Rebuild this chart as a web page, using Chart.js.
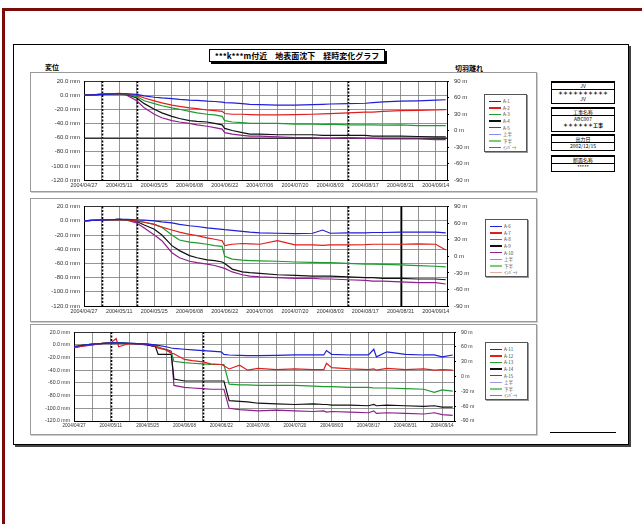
<!DOCTYPE html>
<html>
<head>
<meta charset="utf-8">
<script src="https://cdn.jsdelivr.net/npm/chart.js@4.4.1/dist/chart.umd.min.js"></script>
<style>
  body { margin: 0; width: 642px; height: 524px; overflow: hidden; position: relative; background: #fff;
         font-family: "Liberation Sans", Arial, "Noto Sans CJK JP", sans-serif; }
  .abs { position: absolute; }
  #frame { left: 2px; top: 8px; width: 700px; height: 600px; border-top: 3px solid #7b0c0c; border-left: 3px solid #7b0c0c; }
  #paper { left: 13px; top: 44px; width: 614px; height: 399px; border: 1px solid #000; box-shadow: 2px 2px 0 #444; }
  #title { left: 209px; top: 49px; width: 174px; height: 11px; border: 1px solid #000; box-shadow: 2px 2px 0 #000;
           font: 8px "Noto Sans CJK JP", sans-serif; font-weight: 600; line-height: 11px; text-align: center; white-space: nowrap; background: #fff; }
  .axname { font: 7px "Noto Sans CJK JP", sans-serif; font-weight: 600; white-space: nowrap; }
  .panel { border: 1px solid #9a9a9a; box-shadow: 1px 1px 0 #ccc; }
  .legend { border: 1px solid #555; box-shadow: 1px 1px 0 #999; background: #fff; padding: 3px 0 0 4px; box-sizing: border-box; }
  .legend .row { height: 6.6px; display: flex; align-items: center; }
  .legend .swatch { width: 12px; height: 1.5px; margin-right: 2px; }
  .legend .lab { font: 4.5px "Noto Sans CJK JP", sans-serif; color: #444; white-space: nowrap; }
  .info { left: 551px; width: 62px; border: 1px solid #000; border-top: 2px solid #000; text-align: center;
          font: 5px "Noto Sans CJK JP", sans-serif; }
  .info div { height: 6px; line-height: 6px; white-space: nowrap; }
  .info .head { border-bottom: 1.5px solid #000; }
</style>
</head>
<body>
<div id="frame" class="abs"></div>
<div id="paper" class="abs"></div>
<div id="title" class="abs">***k***m付近　地表面沈下　経時変化グラフ</div>
<div class="abs axname" style="left:45px;top:62px">変位</div>
<div class="abs axname" style="left:455px;top:63px">切羽離れ</div>

<div id="p1" class="abs panel" style="left:30px;top:72px;width:505px;height:118px"></div>
<div id="p2" class="abs panel" style="left:30px;top:198px;width:505px;height:122px"></div>
<div id="p3" class="abs panel" style="left:30px;top:324px;width:505px;height:109px"></div>

<div class="abs info" style="top:81px;height:20px">
  <div class="head">JV</div><div style="font-weight:bold">＊＊＊＊＊＊＊＊＊＊</div><div>JV</div>
</div>
<div class="abs info" style="top:107px;height:22px">
  <div class="head">工事名称</div><div>ABC007</div><div style="font-weight:bold">＊＊＊＊＊＊工事</div>
</div>
<div class="abs info" style="top:134px;height:14px">
  <div class="head">出力日</div><div>2002/12/15</div>
</div>
<div class="abs info" style="top:155px;height:14px">
  <div class="head">断面名称</div><div>*****</div>
</div>
<div class="abs" style="left:550px;top:432px;width:66px;height:0;border-top:1px solid #000"></div>

<script>
// x axis: days counted from 2004/04/27
const dateLabels = ['2004/04/27', '2004/05/11', '2004/05/25', '2004/06/08', '2004/06/22', '2004/07/06',
  '2004/07/20', '2004/08/03', '2004/08/17', '2004/08/31', '2004/09/14'];
const gridDays = [0, 7, 14, 21, 28, 35, 42, 49, 56, 63, 70, 77, 84, 91, 98, 105, 112, 119, 126, 133, 140];
const mmTicks = [20, 0, -20, -40, -60, -80, -100, -120];
const faceTicks = [90, 60, 30, 0, -30, -60, -90];

const seriesColors = ['#1f1fd6', '#e01e1e', '#1e9a2e', '#111111', '#8e1f8e'];
const faceNames = ['上半', '下半', 'ｲﾝﾊﾞｰﾄ'];
const faceColors1 = ['#8c8cf0', '#7cc87c', '#666666'];
const faceColors2 = ['#8c8cf0', '#7cc87c', '#e0b09a'];
const faceColors3 = ['#9a9ad8', '#7cc87c', '#e0642a'];

// panels 1 and 2 share the sampling days
const days12 = [0, 3, 7, 10, 14, 17, 21, 24, 28, 31, 35, 38, 42, 45, 49, 52, 55, 56, 59, 63, 66, 70, 77, 84,
  91, 95, 98, 105, 112, 115, 119, 126, 133, 140, 144];

const names1 = ['A-1', 'A-2', 'A-3', 'A-4', 'A-5'];
const a1 = [0, 0.5, 1, 1.5, 2, 2, 1, -1, -3, -4, -5, -6, -7, -7.5, -8.5, -9, -10, -10.5, -11, -12, -13, -13.5, -14, -14,
  -13.5, -13, -12.5, -12, -11.5, -10.5, -9.5, -8.5, -8, -7, -6.5];
const a2 = [0, 0.5, 1.5, 2, 2.5, 2, 0, -4, -8, -11, -14, -16, -18, -19, -21, -22, -23, -26, -27, -27, -27.5, -28, -28, -27.5,
  -27, -26.5, -26, -25, -24, -24, -23, -22, -21.5, -21, -20.5];
const a3 = [0, 0.5, 1, 1.5, 2, 1.5, -2, -8, -12, -15, -18, -20, -23, -25, -27, -28, -30, -36, -38, -39, -40, -40, -40, -41,
  -41, -41.5, -41, -42, -42, -42, -42.5, -42, -43, -43, -43];
const a4 = [0, 0.5, 1, 1.5, 2, 1, -4, -12, -20, -25, -30, -33, -36, -37, -38, -40, -42, -47, -50, -53, -55, -55, -56, -56,
  -56, -57, -57, -57, -57, -58, -58, -58, -58.5, -59, -59];
const a5 = [0, 0.5, 1, 1.5, 2, 0, -8, -18, -27, -32, -36, -38, -40, -42, -44, -46, -48, -53, -55, -57, -58, -58, -59, -60,
  -60, -61, -61, -60, -61, -61, -62, -62, -62, -63, -63];

const names2 = ['A-6', 'A-7', 'A-8', 'A-9', 'A-10'];
const a6 = [0, 0.5, 1, 1.5, 2, 2, 1.5, 1, 0, -1.5, -3, -5, -7, -8, -10, -11, -12, -12.5, -13.5, -15, -16, -17, -17.5, -18,
  -17.5, -13, -17.5, -17, -17, -16.5, -16.5, -16, -16, -16, -17];
const a7 = [0, 0.5, 1, 1.5, 2, 1.5, 0, -2, -5, -9, -13, -16, -19, -21, -24, -26, -28, -35, -33, -32, -32.5, -33, -28, -34,
  -34, -34.5, -34, -34, -33.5, -33, -33, -33, -32.5, -33, -41];
const a8 = [0, 0.5, 1, 1.5, 2, 1.5, 0, -2, -5, -9, -20, -27, -30, -31, -33, -35, -36, -50, -54, -55.5, -56, -56.5, -57, -58,
  -58.5, -59, -59, -60, -61, -61, -61.5, -62, -63, -64, -65];
const a9 = [0, 0.5, 1, 1.5, 2, 1.5, -1, -6, -12, -20, -35, -42, -49, -52, -55, -56, -58, -60, -68, -72, -73, -74, -76, -77,
  -78, -78, -78, -79, -80, -80, -81, -81, -82, -82, -83];
const a10 = [0, 0.5, 1, 1.5, 2, 1, -3, -10, -20, -28, -45, -52, -57, -59, -61, -63, -66, -67, -72, -76, -78, -79, -80, -81,
  -81, -82, -82, -83, -84, -85, -85, -86, -87, -87, -89];

const days3 = [0, 3, 7, 10, 14, 16, 17, 21, 24, 28, 31, 32, 35, 37, 38, 42, 45, 49, 52, 56, 57, 59, 63, 66, 70, 77, 84,
  91, 95, 96, 98, 105, 112, 114, 115, 119, 126, 133, 137, 140, 144];
const names3 = ['A-11', 'A-12', 'A-13', 'A-14', 'A-15'];
const a11 = [-3, -1, 1, 2, 3, 3, 3, 2.5, 2, 1, 0, -1, -3, -5, -5.5, -7, -8, -9, -10, -11, -15, -16, -16.5, -17, -17, -16.5,
  -16, -16, -16, -9, -15, -16, -16, -7, -19, -11, -15, -16, -16, -19, -16];
const a12 = [-5, -2, 0, 2, 3, 10, -3, 2, 2, 1, -2, -5, -8, -13, -14, -23, -25, -27, -30, -31, -33, -38, -32, -40, -37, -39,
  -38, -39, -39, -29, -36, -38, -39, -38, -40, -37, -39, -38, -40, -39, -40];
const a13 = [-3, -1, 1, 2, 3, 3, 3, 2.5, 2, 1, -1, -3, -8, -12, -26, -28, -29, -30, -31, -31, -31, -62, -63, -63, -64, -64,
  -64, -65, -66, -66, -66, -67, -67, -68, -68, -68, -69, -70, -75, -71, -73];
const a14 = [-4, -1, 1, 2, 3, 3, 3, 2.5, 2, 0, -3, -15, -15, -15, -54, -57, -57, -57, -57, -57, -57, -88, -89, -90, -92, -93,
  -94, -93, -94, -94, -95, -95, -96, -94, -96, -95, -96, -97, -96, -98, -98];
const a15 = [-4, -2, 0, 2, 3, 3, 3, 2, 1, 0, -3, -5, -7, -10, -64, -67, -68, -69, -70, -70, -70, -100, -102, -103, -104, -103,
  -104, -105, -104, -106, -105, -106, -107, -104, -108, -107, -108, -109, -107, -110, -111];

// event lines (days) drawn across the plot
const dotted12 = [7, 21, 105];
const solid2 = [126];

const eventLines = {
  id: 'eventLines',
  beforeDatasetsDraw(chart, args, opts) {
    const { ctx, chartArea, scales } = chart;
    ctx.save();
    ctx.strokeStyle = '#000';
    const draw = (d, dash, w) => {
      const x = Math.round(scales.x.getPixelForValue(d)) + 0.5;
      ctx.setLineDash(dash);
      ctx.lineWidth = w;
      ctx.beginPath();
      ctx.moveTo(x, chartArea.top);
      ctx.lineTo(x, chartArea.bottom);
      ctx.stroke();
    };
    (opts.dotted || []).forEach(d => draw(d, [2, 1.5], 1.6));
    (opts.solid || []).forEach(d => draw(d, [], 1.6));
    // management line
    if (opts.hline !== undefined) {
      const y = Math.round(scales.y.getPixelForValue(opts.hline)) + 0.5;
      ctx.setLineDash([]);
      ctx.strokeStyle = '#333';
      ctx.lineWidth = 1;
      ctx.beginPath();
      ctx.moveTo(chartArea.left, y);
      ctx.lineTo(chartArea.right, y);
      ctx.stroke();
    }
    ctx.restore();
  }
};

function buildPanel(id, cfg) {
  const host = document.getElementById(id);
  const canvas = document.createElement('canvas');
  canvas.width = 450;
  canvas.height = cfg.height;
  canvas.style.position = 'absolute';
  canvas.style.left = '-1px';
  canvas.style.top = '-1px';
  host.appendChild(canvas);

  const datasets = cfg.series.map((vals, i) => ({
    label: cfg.names[i],
    data: vals.map((v, k) => ({ x: cfg.days[k], y: v })),
    borderColor: seriesColors[i],
    borderWidth: 1.2,
    pointRadius: 0,
    yAxisID: 'y'
  }));
  faceNames.forEach((n, i) => datasets.push({
    label: n, data: [], borderColor: cfg.faceColors[i], borderWidth: 1, pointRadius: 0, yAxisID: 'y2'
  }));

  const font = { family: '"Liberation Sans", Arial, sans-serif', size: cfg.fontSize };
  const xFont = { family: '"Liberation Sans", Arial, sans-serif', size: cfg.fontSize - 0.6 };
  new Chart(canvas, {
    type: 'line',
    data: { datasets },
    plugins: [eventLines],
    options: {
      responsive: false,
      animation: false,
      layout: { padding: { top: cfg.padTop, left: 0, right: 0, bottom: 0 } },
      plugins: {
        legend: { display: false },
        tooltip: { enabled: false },
        eventLines: { dotted: cfg.dotted, solid: cfg.solid, hline: cfg.hline }
      },
      scales: {
        x: {
          type: 'linear', min: 0, max: 144.5,
          afterBuildTicks: s => { s.ticks = gridDays.map(v => ({ value: v })); },
          afterFit: s => { s.height = cfg.xHeight; },
          ticks: {
            autoSkip: false, maxRotation: 0, padding: 2, font: xFont, color: '#333',
            callback: v => (v % 14 === 0 ? dateLabels[v / 14] : '')
          },
          grid: { color: '#7a7a7a', lineWidth: 0.8, tickLength: 0 },
          border: { color: '#000', width: 1 }
        },
        y: {
          position: 'left', min: -120, max: 20,
          afterBuildTicks: s => { s.ticks = mmTicks.map(v => ({ value: v })); },
          afterFit: s => { s.width = cfg.leftW; },
          ticks: { padding: 4, font, color: '#333', callback: v => v.toFixed(1) + ' mm' },
          grid: { color: c => (c.tick && c.tick.value === 20 ? '#000' : '#7a7a7a'), lineWidth: 0.8, tickLength: 0 },
          border: { color: '#000', width: 1 }
        },
        y2: {
          position: 'right', min: -90, max: 90,
          afterBuildTicks: s => { s.ticks = faceTicks.map(v => ({ value: v })); },
          afterFit: s => { s.width = cfg.rightW; },
          ticks: { padding: 5, font, color: '#333', callback: v => v + ' m' },
          grid: { drawOnChartArea: false, tickLength: 2, color: '#000' },
          border: { color: '#000', width: 1 }
        }
      }
    }
  });

  // legend box
  const leg = document.createElement('div');
  leg.className = 'abs legend';
  leg.style.left = (cfg.legend[0] - 30) + 'px';
  leg.style.top = cfg.legend[1] + 'px';
  leg.style.width = '43px';
  leg.style.height = '58px';
  datasets.forEach(ds => {
    const row = document.createElement('div');
    row.className = 'row';
    row.innerHTML = '<span class="swatch" style="background:' + ds.borderColor + '"></span><span class="lab">' + ds.label + '</span>';
    leg.appendChild(row);
  });
  host.appendChild(leg);
}

buildPanel('p1', {
  height: 118, padTop: 9, xHeight: 10, leftW: 54, rightW: 33, fontSize: 6,
  days: days12, names: names1, series: [a1, a2, a3, a4, a5], faceColors: faceColors1,
  dotted: dotted12, solid: [], hline: -60, legend: [483, 21]
});
buildPanel('p2', {
  height: 122, padTop: 7, xHeight: 14, leftW: 54, rightW: 33, fontSize: 6,
  days: days12, names: names2, series: [a6, a7, a8, a9, a10], faceColors: faceColors2,
  dotted: dotted12, solid: solid2, legend: [484, 20]
});
buildPanel('p3', {
  height: 109, padTop: 7, xHeight: 12, leftW: 44, rightW: 26, fontSize: 5.2,
  days: days3, names: names3, series: [a11, a12, a13, a14, a15], faceColors: faceColors3,
  dotted: [14, 49], solid: [], legend: [484, 17]
});
</script>
</body>
</html>
